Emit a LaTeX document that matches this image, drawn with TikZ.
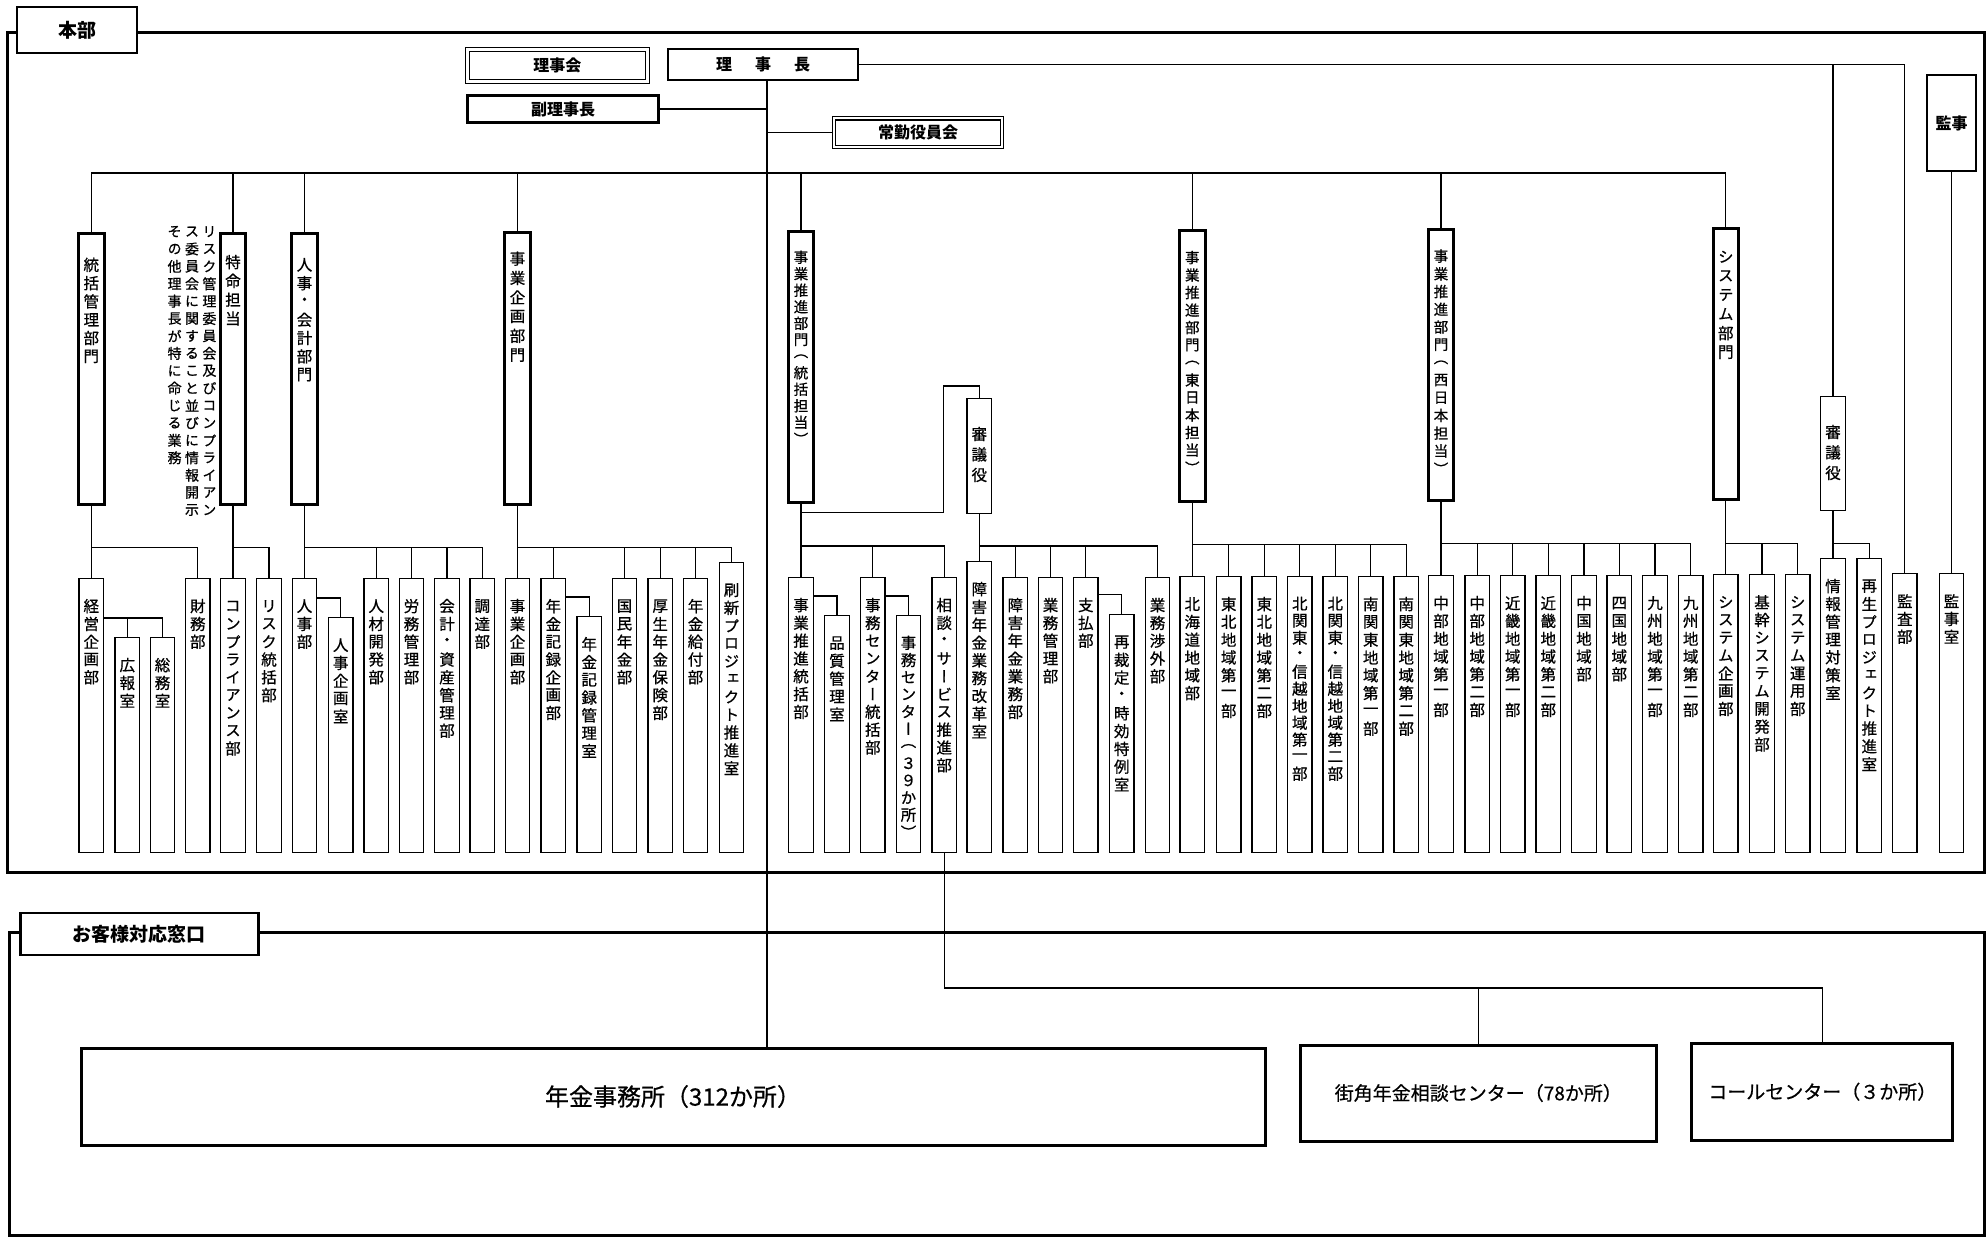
\documentclass[tikz,border=0pt]{standalone}
\usepackage{fontspec}
\setmainfont{Noto Sans CJK JP}
\newfontfamily\jp{Noto Sans CJK JP}[FakeBold=0.6]
\newfontfamily\jpb{Noto Sans CJK JP}
\newfontfamily\jpv{Noto Sans CJK JP}[RawFeature=+vert,FakeBold=0.7]
\makeatletter
\newdimen\vstp \newdimen\vstw
\def\vst@a#1#2\@nil{\hbox to\vstw{\hss\vbox to\vstp{\vss\hbox{#1}\vss}\hss}\ifx\relax#2\relax\else\vst@a#2\@nil\fi}
\newcommand\vtext[5]{\vbox to #4{\jpv\fontsize{#1pt}{#1pt}\selectfont\offinterlineskip\vstp=#2pt\relax\vstw=20pt\relax\vskip #3pt\relax\vst@a#5\@nil\vss}}
\newcommand\vcol[3]{\vtop{\jpv\fontsize{#1pt}{#1pt}\selectfont\offinterlineskip\vstp=#2pt\relax\vstw=#2pt\relax\vst@a#3\@nil}}
\makeatother
\newcommand\VB[9]{\node[#1,minimum height={(#5)-(#4)}] (#2) at (#3,#4) {\vtext{#6}{#7}{#8}{\dimexpr #5pt-#4pt\relax}{#9}};}
\newcommand\SB[5][17.8]{\VB{subbox}{#2}{#3}{#4}{852}{15.5}{#1}{18.5}{#5}}
\newcommand\HB[8]{\VB{headbox}{#1}{#2}{#3}{#4}{#5}{#6}{#7}{#8}}
\newcommand\drop[2]{\draw[conn] (#1.north) -- (#1.north |- #2);}
\tikzset{
  conn/.style={line width=1.3pt},
  frame/.style={line width=3pt},
  subbox/.style={draw, line width=1.4pt, anchor=north, inner sep=0pt, minimum width=24.5pt, fill=white},
  headbox/.style={draw, line width=3pt, anchor=north, inner sep=0pt, minimum width=25.5pt, fill=white},
  thickbox/.style={draw, line width=2.8pt, inner sep=0pt, fill=white, font=\jpb\bfseries\fontsize{16pt}{16pt}\selectfont},
  dblbox/.style={draw, double=white, double distance=2.2pt, line width=1.1pt, inner sep=0pt, fill=white, font=\jpb\bfseries\fontsize{16pt}{16pt}\selectfont},
  bigbox/.style={draw, line width=3pt, inner sep=0pt, fill=white},
}
\begin{document}
\begin{tikzpicture}[x=1pt,y=-1pt]
\useasboundingbox (0,0) rectangle (1986,1237);
% frames
\draw[frame] (7.5,32) rectangle (1984,872);
\draw[frame] (9,932) rectangle (1984,1235);
\node[thickbox, minimum width=120pt, minimum height=46pt, font=\jpb\bfseries\fontsize{19pt}{19pt}\selectfont] (honbu) at (77,30) {本部};
\node[thickbox, minimum width=238pt, minimum height=42pt, font=\jpb\bfseries\fontsize{19pt}{19pt}\selectfont] (okyaku) at (139.3,934) {お客様対応窓口};

% top executives
\node[dblbox, minimum width=180pt, minimum height=32pt] (rijikai) at (557.4,65.5) {理事会};
\node[thickbox, minimum width=190pt, minimum height=31pt] (richo) at (763,64.5) {理\hspace{23pt}事\hspace{23pt}長};
\node[thickbox, minimum width=190.5pt, minimum height=26.6pt] (fuku) at (563,109) {副理事長};
\node[dblbox, minimum width=168pt, minimum height=28.4pt] (joukin) at (918,132.5) {常勤役員会};
\node[thickbox, minimum width=49pt, minimum height=96pt] (kanji) at (1951.5,123) {監事};

\coordinate (cx) at (767,0);
\coordinate (yT) at (0,173);
\coordinate (yA) at (0,547.5);
\coordinate (yB) at (0,546);
\coordinate (yC) at (0,544.5);
\coordinate (yD) at (0,543.5);
\coordinate (yE) at (0,988);
\coordinate (y618) at (0,618);
\coordinate (y598) at (0,598);
\coordinate (y597) at (0,597);
\coordinate (y596) at (0,596);
\coordinate (y594) at (0,594.5);
\coordinate (ys) at (0,512.5);
\coordinate (sgA) at (943.5,386);

% division headers
\HB{h1}{91.3}{231.7}{503}{15.5}{18.3}{22.5}{統括管理部門}
\HB{h2}{233}{231.7}{503}{15.5}{18.8}{19.5}{特命担当}
\HB{h3}{304.5}{231.7}{503}{15.5}{18.3}{22.5}{人事・会計部門}
\HB{h4}{517.5}{231}{502.5}{15.5}{19.3}{16.5}{事業企画部門}
\HB{h5}{801}{230}{500.7}{14.5}{16.5}{17.5}{事業推進部門（統括担当）}
\HB{h6}{1192.3}{229.3}{500}{14.5}{17.5}{18}{事業推進部門（東日本担当）}
\HB{h7}{1441}{228.3}{499}{14.5}{17.7}{17.5}{事業推進部門（西日本担当）}
\HB{h8}{1725.8}{226.7}{497.7}{15.5}{19.1}{19}{システム部門}
\VB{subbox}{shingi1}{979.3}{398}{512.5}{15.5}{20.5}{25}{審議役}
\VB{subbox}{shingi2}{1833}{396}{510}{15.5}{20.5}{25}{審議役}

\node[anchor=north east, inner sep=0pt] (note) at (218.3,222.7) {\hbox{\vcol{14}{17.4}{その他理事長が特に命じる業務}\vcol{14}{17.4}{ス委員会に関すること並びに情報開示}\vcol{14}{17.4}{リスク管理委員会及びコンプライアン}}};

% sub departments
\SB{keiei}{91.3}{578}{経営企画部}
\SB{kouhou}{127.3}{637}{広報室}
\SB{soumu}{162.5}{637}{総務室}
\SB{zaimu}{197.8}{578}{財務部}
\SB{compl}{233}{578}{コンプライアンス部}
\SB{risk}{269}{578}{リスク統括部}
\SB{jinji}{304.5}{578}{人事部}
\SB{jinjikikaku}{340.7}{617}{人事企画室}
\SB{jinzai}{376.2}{578}{人材開発部}
\SB{roumu}{411.5}{578}{労務管理部}
\SB{kaikei}{447}{578}{会計・資産管理部}
\SB{choutatsu}{482.3}{578}{調達部}
\SB{jigyoukikaku}{517.5}{578}{事業企画部}
\SB{kirokukikaku}{553.3}{578}{年金記録企画部}
\SB{kirokukanri}{589.2}{616}{年金記録管理室}
\SB{kokumin}{624.5}{578}{国民年金部}
\SB{kousei}{660.2}{578}{厚生年金保険部}
\SB{kyufu}{695.5}{578}{年金給付部}
\SB{sasshin}{731.5}{562}{刷新プロジェクト推進室}
\SB{suishin}{801}{577}{事業推進統括部}
\SB{hinshitsu}{837}{615}{品質管理室}
\SB{jimutoukatsu}{872.8}{577}{事務センター統括部}
\SB[17.2]{jimucenter}{908.5}{615}{事務センター（３９か所）}
\SB{soudan}{944.2}{577}{相談・サービス推進部}
\SB{kaikaku}{979.3}{561}{障害年金業務改革室}
\SB{shougai}{1015.3}{577}{障害年金業務部}
\SB{gyoumukanri}{1050.5}{577}{業務管理部}
\SB{shiharai}{1085.8}{577}{支払部}
\SB{saisaitei}{1121.7}{614}{再裁定・時効特例室}
\SB{shougai2}{1157.5}{577}{業務渉外部}
\SB{hokkaido}{1192.3}{576}{北海道地域部}
\SB{tohoku1}{1228.7}{576}{東北地域第一部}
\SB{tohoku2}{1264.3}{576}{東北地域第二部}
\SB[17]{kitakanto1}{1299.8}{576}{北関東・信越地域第一部}
\SB[17]{kitakanto2}{1335.3}{576}{北関東・信越地域第二部}
\SB{minami1}{1370.7}{576}{南関東地域第一部}
\SB{minami2}{1406.2}{576}{南関東地域第二部}
\SB{chubu1}{1441}{575}{中部地域第一部}
\SB{chubu2}{1477.2}{575}{中部地域第二部}
\SB{kinki1}{1512.7}{575}{近畿地域第一部}
\SB{kinki2}{1548.3}{575}{近畿地域第二部}
\SB{chugoku}{1584}{575}{中国地域部}
\SB{shikoku}{1619.3}{575}{四国地域部}
\SB{kyushu1}{1655}{575}{九州地域第一部}
\SB{kyushu2}{1690.7}{575}{九州地域第二部}
\SB{syskikaku}{1725.8}{574}{システム企画部}
\SB{kikan}{1762}{574}{基幹システム開発部}
\SB{sysunyou}{1797.7}{574}{システム運用部}
\SB{jouhou}{1833}{558}{情報管理対策室}
\SB{saisei}{1869.3}{558}{再生プロジェクト推進室}
\SB{kansa}{1904.8}{573}{監査部}
\SB{kanjishitsu}{1951.5}{573}{監事室}

% bottom offices
\node[bigbox, minimum width=1184pt, minimum height=97pt, font=\jp\fontsize{24pt}{24pt}\selectfont] (nenkin) at (673,1096.5) {年金事務所（312か所）};
\node[bigbox, minimum width=355.4pt, minimum height=96pt, font=\jp\fontsize{19pt}{19pt}\selectfont] (machikado) at (1478.3,1093) {街角年金相談センター（78か所）};
\node[bigbox, minimum width=261pt, minimum height=96.7pt, font=\jp\fontsize{19pt}{19pt}\selectfont] (call) at (1822.3,1091.7) {コールセンター（３か所）};

% connectors: executives
\draw[conn] (richo.south -| cx) -- (nenkin.north -| cx);
\draw[conn] (fuku.east) -- (fuku.east -| cx);
\draw[conn] (joukin.west -| cx) -- (joukin.west);
\draw[conn] (richo.east) -| (kansa.north);
\draw[conn] (shingi2.north) -- (shingi2.north |- richo.east);
\draw[conn] (kanji.south) -- (kanjishitsu.north);

% connectors: division bus
\draw[conn] (h1.north) |- (h8.north |- yT) -- (h8.north);
\foreach \h in {h2,h3,h4,h5,h6,h7}{\draw[conn] (\h.north) -- (\h.north |- yT);}

% group 1
\draw[conn] (h1.south) |- (zaimu.north |- yA) -- (zaimu.north);
\drop{keiei}{yA}
\draw[conn] (keiei.east |- y618) -| (soumu.north);
\drop{kouhou}{y618}
% group 2
\draw[conn] (h2.south) |- (risk.north |- yA) -- (risk.north);
\drop{compl}{yA}
% group 3
\draw[conn] (h3.south) |- (choutatsu.north |- yA) -- (choutatsu.north);
\foreach \n in {jinji,jinzai,roumu,kaikei}{\drop{\n}{yA}}
\draw[conn] (jinji.east |- y598) -| (jinjikikaku.north);
% group 4
\draw[conn] (h4.south) |- (sasshin.north |- yA) -- (sasshin.north);
\foreach \n in {jigyoukikaku,kirokukikaku,kokumin,kousei,kyufu}{\drop{\n}{yA}}
\draw[conn] (kirokukikaku.east |- y597) -| (kirokukanri.north);
% group 5
\draw[conn] (h5.south) |- (soudan.north |- yB) -- (soudan.north);
\foreach \n in {suishin,jimutoukatsu}{\drop{\n}{yB}}
\draw[conn] (suishin.east |- y596) -| (hinshitsu.north);
\draw[conn] (jimutoukatsu.east |- y596) -| (jimucenter.north);
\draw[conn] (h5.south |- ys) -| (sgA) -| (shingi1.north);
\draw[conn] (shingi1.south) |- (shougai2.north |- yB) -- (shougai2.north);
\foreach \n in {kaikaku,shougai,gyoumukanri,shiharai}{\drop{\n}{yB}}
\draw[conn] (shiharai.east |- y594) -| (saisaitei.north);
% group 6
\draw[conn] (h6.south) |- (minami2.north |- yC) -- (minami2.north);
\foreach \n in {hokkaido,tohoku1,tohoku2,kitakanto1,kitakanto2,minami1}{\drop{\n}{yC}}
% group 7
\draw[conn] (h7.south) |- (kyushu2.north |- yD) -- (kyushu2.north);
\foreach \n in {chubu1,chubu2,kinki1,kinki2,chugoku,shikoku,kyushu1}{\drop{\n}{yD}}
% group 8
\draw[conn] (h8.south) |- (sysunyou.north |- yD) -- (sysunyou.north);
\foreach \n in {syskikaku,kikan}{\drop{\n}{yD}}
% right councillor
\draw[conn] (shingi2.south) |- (saisei.north |- yD) -- (saisei.north);
\drop{jouhou}{yD}
% customer offices
\draw[conn] (soudan.south) |- (call.north |- yE) -- (call.north);
\draw[conn] (machikado.north) -- (machikado.north |- yE);
\end{tikzpicture}
\end{document}
